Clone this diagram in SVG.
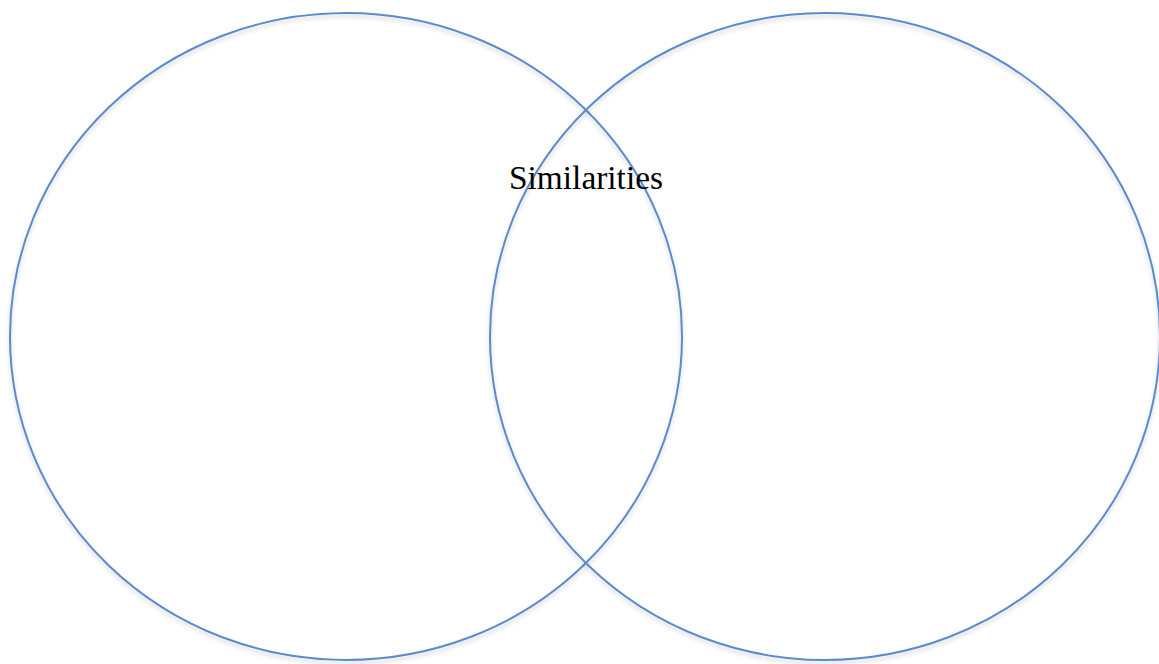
<svg xmlns="http://www.w3.org/2000/svg" width="1159" height="664" viewBox="0 0 1159 664">
<style>
.c{fill:none;stroke:#5a8ccb;stroke-width:2;filter:url(#sh)}
.t{font-family:"Liberation Serif","DejaVu Serif",serif;font-size:34px;fill:#000}
</style>
<defs>
<filter id="sh" x="-5%" y="-5%" width="110%" height="112%">
<feDropShadow dx="0" dy="3" stdDeviation="2" flood-color="#000" flood-opacity="0.18"/>
</filter>
</defs>
<rect width="1159" height="664" fill="#fff"/>
<g id="left"><ellipse class="c" cx="346" cy="336.5" rx="336" ry="323.5"/></g>
<g id="right"><ellipse class="c" cx="825" cy="336.5" rx="335" ry="323.5"/></g>
<g id="label"><text class="t" x="509" y="189" textLength="154" lengthAdjust="spacingAndGlyphs">Similarities</text></g>
</svg>
